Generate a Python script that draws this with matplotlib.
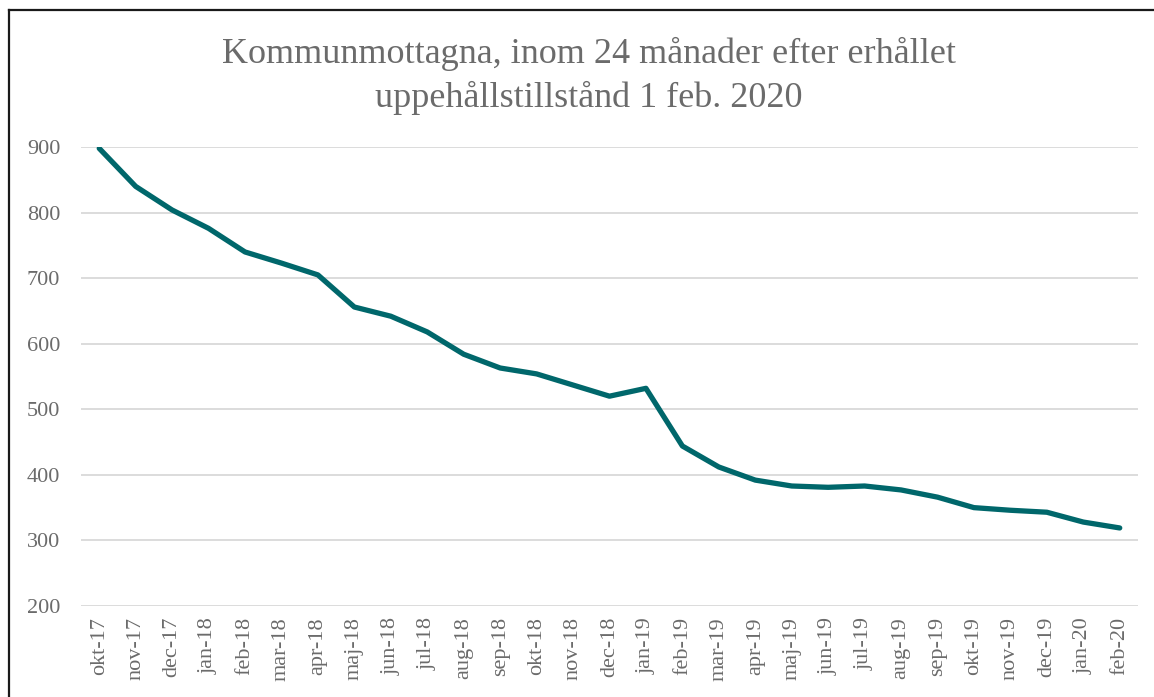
import matplotlib
matplotlib.use("Agg")
import matplotlib.pyplot as plt
from matplotlib.lines import Line2D

manader = ["okt-17", "nov-17", "dec-17", "jan-18", "feb-18", "mar-18", "apr-18",
           "maj-18", "jun-18", "jul-18", "aug-18", "sep-18", "okt-18", "nov-18",
           "dec-18", "jan-19", "feb-19", "mar-19", "apr-19", "maj-19", "jun-19",
           "jul-19", "aug-19", "sep-19", "okt-19", "nov-19", "dec-19", "jan-20",
           "feb-20"]
antal = [898, 840, 804, 776, 740, 723, 705, 656, 642, 618, 584, 563, 554, 537,
         520, 532, 444, 412, 392, 383, 381, 383, 377, 366, 350, 346, 343, 328, 319]
y_ticks = [200, 300, 400, 500, 600, 700, 800, 900]

plt.rcParams['font.family'] = ['Liberation Serif', 'DejaVu Serif']

fig = plt.figure(figsize=(11.54, 6.97), dpi=100)
ax = fig.add_axes([0.0702, 0.1306, 0.9159, 0.6584])

x = list(range(len(manader)))
ax.plot(x, antal, color='#00676B', linewidth=3.8, solid_capstyle='round',
        solid_joinstyle='round', zorder=3)

ax.set_xlim(-0.5, len(manader) - 0.5)
ax.set_ylim(200, 900)
ax.set_yticks(y_ticks)
ax.set_yticklabels([str(v) for v in y_ticks])
ax.set_xticks(x)
ax.set_xticklabels(manader, rotation=90)
ax.tick_params(axis='both', length=0, colors='#6b6b6b', labelsize=16)
ax.tick_params(axis='y', pad=15)
ax.tick_params(axis='x', pad=8)
ax.grid(axis='y', color='#D9D9D9', linewidth=1.3)
ax.set_axisbelow(True)
for s in ax.spines.values():
    s.set_visible(False)

fig.text(0.51, 0.922, "Kommunmottagna, inom 24 månader efter erhållet",
         ha='center', va='center', fontsize=26, color='#6b6b6b')
fig.text(0.51, 0.859, "uppehållstillstånd 1 feb. 2020",
         ha='center', va='center', fontsize=26, color='#6b6b6b')

# ram runt diagrammet (vänster + överkant)
fig.add_artist(Line2D([0.0078, 0.0078], [0, 0.986], transform=fig.transFigure,
                      color='#1a1a1a', linewidth=1.6))
fig.add_artist(Line2D([0.0078, 1.0], [0.986, 0.986], transform=fig.transFigure,
                      color='#1a1a1a', linewidth=1.6))

fig.savefig("out.png", dpi=100)
